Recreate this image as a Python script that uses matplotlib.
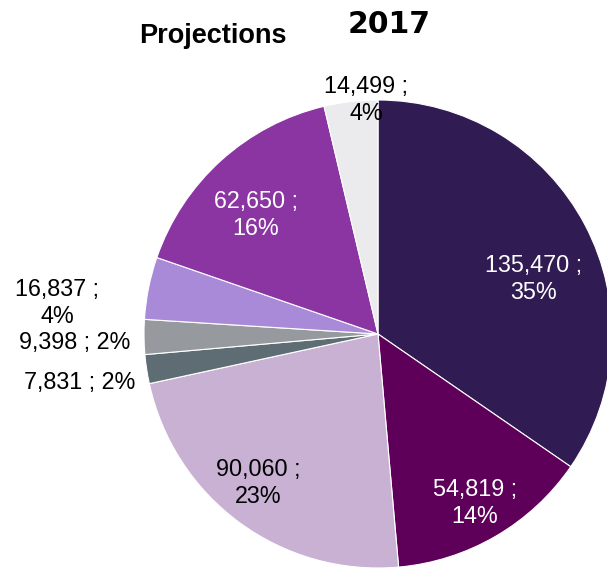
import matplotlib
matplotlib.use("Agg")
import matplotlib.pyplot as plt

plt.rcParams['font.family'] = ['Liberation Sans', 'DejaVu Sans']

# slices, clockwise from 12 o'clock
values = [135470, 54819, 90060, 7831, 9398, 16837, 62650, 14499]
colors = ['#311B53', '#5E0059', '#C9B1D3', '#5E6C73', '#969A9E',
          '#A98AD8', '#8B35A3', '#EBEBEE']
label_colors = ['white', 'white', 'black', 'black', 'black',
                'black', 'white', 'black']
two_line = [True, True, True, False, False, True, True, True]

# label centres in pixel coordinates (x, y from top)
label_pos = [(534, 279), (475, 503), (258, 483), (80, 383), (75, 343),
             (57, 303), (256, 215), (366, 100)]

W, H = 607, 569
fig = plt.figure(figsize=(W / 100, H / 100), dpi=100)
ax = fig.add_axes([0, 0, 1, 1])
ax.axis('off')

ax.pie(values, colors=colors, startangle=90, counterclock=False,
       center=(378, H - 334), radius=234,
       wedgeprops=dict(edgecolor='white', linewidth=0.8))
ax.set_xlim(0, W)
ax.set_ylim(0, H)
ax.set_aspect('equal')

total = sum(values)
for v, c, two, (px, py) in zip(values, label_colors, two_line, label_pos):
    pct = "%d%%" % round(v * 100.0 / total)
    sep = "\n" if two else " "
    txt = "{:,} ;{}{}".format(v, sep, pct)
    ax.text(px, H - py, txt, ha='center', va='center', fontsize=16.8,
            color=c, linespacing=1.22)

ax.text(213, H - 43, "Projections", ha='center', va='baseline',
        fontsize=19.5, fontweight='bold')
ax.text(389, H - 33, "2017", ha='center', va='baseline',
        fontsize=21.5, fontweight='bold', family='DejaVu Sans')

fig.savefig("out.png", dpi=100)
